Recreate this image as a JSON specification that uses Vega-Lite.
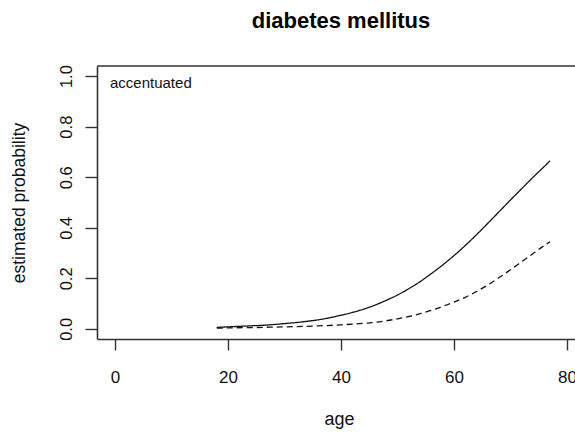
{
  "$schema": "https://vega.github.io/schema/vega-lite/v6.json",
  "autosize": "none",
  "width": 478,
  "height": 273,
  "padding": {"left": 97, "top": 66, "right": 0, "bottom": 95},
  "background": "white",
  "title": {
    "text": "diabetes mellitus",
    "font": "Liberation Sans",
    "fontSize": 22,
    "fontWeight": "bold",
    "color": "black",
    "anchor": "middle",
    "frame": "group",
    "dx": 5,
    "offset": 32
  },
  "config": {
    "view": {"stroke": null},
    "font": "Liberation Sans"
  },
  "datasets": {
    "curves": [
      {"age": 18, "p": 0.006, "pattern": "accentuated"},
      {"age": 20, "p": 0.008, "pattern": "accentuated"},
      {"age": 22, "p": 0.010, "pattern": "accentuated"},
      {"age": 24, "p": 0.012, "pattern": "accentuated"},
      {"age": 26, "p": 0.014, "pattern": "accentuated"},
      {"age": 28, "p": 0.017, "pattern": "accentuated"},
      {"age": 30, "p": 0.021, "pattern": "accentuated"},
      {"age": 32, "p": 0.025, "pattern": "accentuated"},
      {"age": 34, "p": 0.030, "pattern": "accentuated"},
      {"age": 36, "p": 0.036, "pattern": "accentuated"},
      {"age": 38, "p": 0.044, "pattern": "accentuated"},
      {"age": 40, "p": 0.054, "pattern": "accentuated"},
      {"age": 42, "p": 0.065, "pattern": "accentuated"},
      {"age": 44, "p": 0.078, "pattern": "accentuated"},
      {"age": 46, "p": 0.094, "pattern": "accentuated"},
      {"age": 48, "p": 0.113, "pattern": "accentuated"},
      {"age": 50, "p": 0.134, "pattern": "accentuated"},
      {"age": 52, "p": 0.159, "pattern": "accentuated"},
      {"age": 54, "p": 0.187, "pattern": "accentuated"},
      {"age": 56, "p": 0.219, "pattern": "accentuated"},
      {"age": 58, "p": 0.253, "pattern": "accentuated"},
      {"age": 60, "p": 0.290, "pattern": "accentuated"},
      {"age": 62, "p": 0.330, "pattern": "accentuated"},
      {"age": 64, "p": 0.373, "pattern": "accentuated"},
      {"age": 66, "p": 0.418, "pattern": "accentuated"},
      {"age": 68, "p": 0.464, "pattern": "accentuated"},
      {"age": 70, "p": 0.510, "pattern": "accentuated"},
      {"age": 72, "p": 0.555, "pattern": "accentuated"},
      {"age": 74, "p": 0.600, "pattern": "accentuated"},
      {"age": 76, "p": 0.643, "pattern": "accentuated"},
      {"age": 77, "p": 0.665, "pattern": "accentuated"},
      {"age": 18, "p": 0.003, "pattern": "other"},
      {"age": 20, "p": 0.004, "pattern": "other"},
      {"age": 24, "p": 0.005, "pattern": "other"},
      {"age": 28, "p": 0.007, "pattern": "other"},
      {"age": 32, "p": 0.009, "pattern": "other"},
      {"age": 36, "p": 0.012, "pattern": "other"},
      {"age": 40, "p": 0.016, "pattern": "other"},
      {"age": 44, "p": 0.022, "pattern": "other"},
      {"age": 46, "p": 0.026, "pattern": "other"},
      {"age": 48, "p": 0.032, "pattern": "other"},
      {"age": 50, "p": 0.040, "pattern": "other"},
      {"age": 52, "p": 0.049, "pattern": "other"},
      {"age": 54, "p": 0.060, "pattern": "other"},
      {"age": 56, "p": 0.073, "pattern": "other"},
      {"age": 58, "p": 0.089, "pattern": "other"},
      {"age": 60, "p": 0.106, "pattern": "other"},
      {"age": 62, "p": 0.125, "pattern": "other"},
      {"age": 64, "p": 0.148, "pattern": "other"},
      {"age": 66, "p": 0.174, "pattern": "other"},
      {"age": 68, "p": 0.203, "pattern": "other"},
      {"age": 70, "p": 0.234, "pattern": "other"},
      {"age": 72, "p": 0.266, "pattern": "other"},
      {"age": 74, "p": 0.298, "pattern": "other"},
      {"age": 76, "p": 0.330, "pattern": "other"},
      {"age": 77, "p": 0.345, "pattern": "other"}
    ],
    "labels": [
      {"age": -0.9, "p": 0.973, "text": "accentuated"}
    ]
  },
  "layer": [
    {
      "data": {"name": "curves"},
      "mark": {"type": "line", "strokeWidth": 1.3, "color": "#111", "interpolate": "monotone"},
      "encoding": {
        "x": {
          "field": "age",
          "type": "quantitative",
          "scale": {"domain": [-3.2, 81.42], "nice": false, "zero": false},
          "axis": {
            "title": "age",
            "values": [0, 20, 40, 60, 80],
            "grid": false,
            "domainColor": "#333",
            "domainWidth": 1.6,
            "tickColor": "#333",
            "tickWidth": 1.4,
            "tickSize": 11,
            "labelFontSize": 17,
            "labelColor": "#111",
            "labelPadding": 19,
            "labelFlush": false,
            "labelOverlap": false,
            "titleFontSize": 18,
            "titleFontWeight": "normal",
            "titleColor": "#111",
            "titlePadding": 25,
            "titleAnchor": "middle",
            "titleX": 242
          }
        },
        "y": {
          "field": "p",
          "type": "quantitative",
          "scale": {"domain": [-0.04, 1.04], "nice": false, "zero": false},
          "axis": {
            "title": "estimated probability",
            "values": [0, 0.2, 0.4, 0.6, 0.8, 1.0],
            "format": ".1f",
            "grid": false,
            "domainColor": "#333",
            "domainWidth": 1.6,
            "tickColor": "#333",
            "tickWidth": 1.4,
            "tickSize": 12,
            "labelFontSize": 16.5,
            "labelColor": "#111",
            "labelAngle": -90,
            "labelAlign": "center",
            "labelBaseline": "bottom",
            "labelPadding": 11,
            "labelFlush": false,
            "labelOverlap": false,
            "titleFontSize": 17.5,
            "titleFontWeight": "normal",
            "titleColor": "#111",
            "titlePadding": 30
          }
        },
        "strokeDash": {
          "field": "pattern",
          "type": "nominal",
          "scale": {"domain": ["accentuated", "other"], "range": [[1, 0], [6, 4]]},
          "legend": null
        }
      }
    },
    {
      "data": {"values": [{"v": 1.04}]},
      "mark": {"type": "rule", "color": "#333", "strokeWidth": 1.6},
      "encoding": {"y": {"field": "v", "type": "quantitative"}}
    },
    {
      "data": {"name": "labels"},
      "mark": {"type": "text", "fontSize": 15, "align": "left", "baseline": "middle", "color": "#111"},
      "encoding": {
        "x": {"field": "age", "type": "quantitative"},
        "y": {"field": "p", "type": "quantitative"},
        "text": {"field": "text"}
      }
    }
  ]
}
